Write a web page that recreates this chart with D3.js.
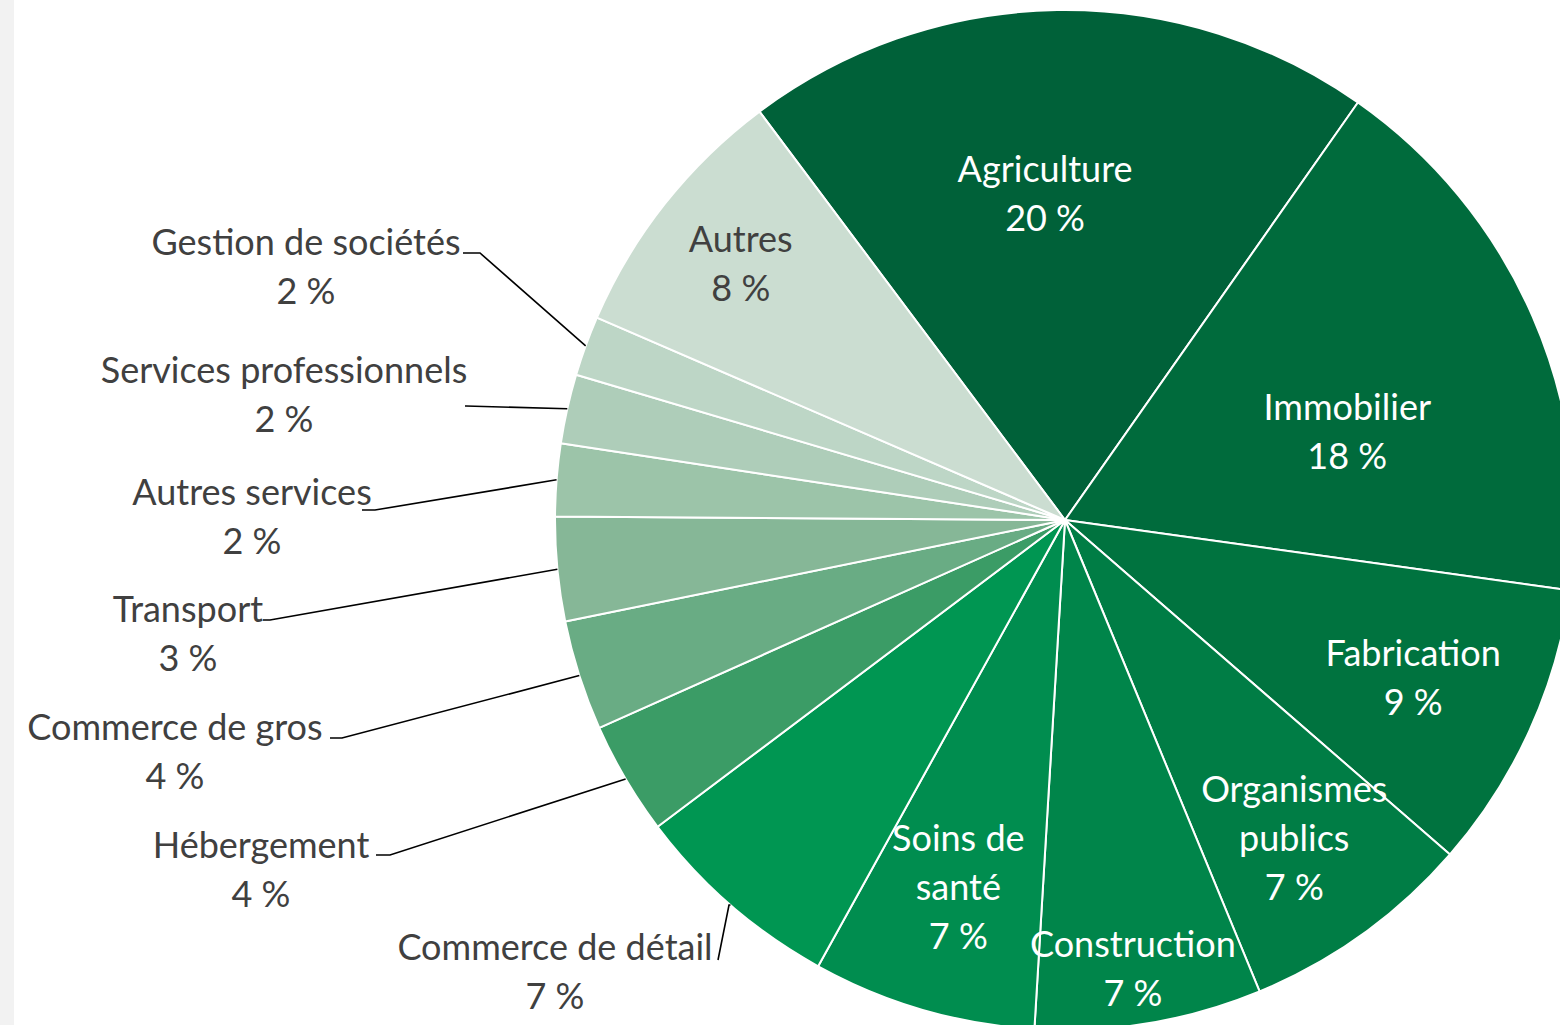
<!DOCTYPE html>
<html>
<head>
<meta charset="utf-8">
<script src="https://cdn.jsdelivr.net/npm/d3@7"></script>
<style>
  html, body { margin: 0; padding: 0; background: #fff; }
  svg { display: block; }
</style>
</head>
<body>
<svg id="chart" width="1560" height="1025"></svg>
<script>
// sectors, clockwise from the Agriculture slice
var sectors = ['Agriculture', 'Immobilier', 'Fabrication', 'Organismes publics', 'Construction',
  'Soins de santé', 'Commerce de détail', 'Hébergement', 'Commerce de gros', 'Transport',
  'Autres services', 'Services professionnels', 'Gestion de sociétés', 'Autres'];
// shares (%)
var shares = [20.0, 17.5, 9.2, 7.4, 7.2, 7.1, 6.7, 3.6, 3.5, 3.3, 2.3, 2.2, 1.9, 8.3];
// rounded labels as printed
var shareLabels = ['20 %', '18 %', '9 %', '7 %', '7 %', '7 %', '7 %', '4 %', '4 %', '3 %', '2 %', '2 %', '2 %', '8 %'];
var colours = ['#006139', '#006b3c', '#00733f', '#007d45', '#00854a', '#008d4f', '#009652',
  '#3b9c66', '#69ac84', '#86b797', '#9cc4a9', '#aecdb9', '#bdd6c6', '#cbddd1'];

// label layout (not data): inside labels sit at [angle in degrees or null = mid angle, radius fraction],
// outside labels have a fixed text box and a leader line to the rim
var labelLines = [['Agriculture'], ['Immobilier'], ['Fabrication'], ['Organismes', 'publics'], ['Construction'],
  ['Soins de', 'santé'], ['Commerce de détail'], ['Hébergement'], ['Commerce de gros'], ['Transport'],
  ['Autres services'], ['Services professionnels'], ['Gestion de sociétés'], ['Autres']];
var inside = {
  0: [-3.5, 0.64], 1: [72.6, 0.58], 2: [null, 0.75], 3: [null, 0.77],
  4: [171.4, 0.89], 5: [null, 0.75], 13: [null, 0.81]
};
var darkInside = {13: true};
var outside = {
  6:  {x: 555, y: 947, elbow: [[718, 960], [729, 905]]},
  7:  {x: 261, y: 845, elbow: [[376, 855], [390, 855]]},
  8:  {x: 175, y: 727, elbow: [[330, 738], [342, 738]]},
  9:  {x: 188, y: 609, elbow: [[263, 620], [270, 620]]},
  10: {x: 252, y: 492, elbow: [[362, 510], [375, 510]]},
  11: {x: 284, y: 370, elbow: [[465, 406], [466, 406]]},
  12: {x: 306, y: 242, elbow: [[463, 253], [480, 253]]}
};

var cx = 1065, cy = 520, R = 510;
var lineH = 49;
var startDeg = -36.8;

var svg = d3.select('#chart');
svg.append('rect').attr('x', 0).attr('y', 0).attr('width', 14).attr('height', 1025).attr('fill', '#f2f2f2');

var g = svg.append('g').attr('transform', 'translate(' + cx + ',' + cy + ')');

var pie = d3.pie().sort(null).value(function(d) { return d; })
  .startAngle(startDeg * Math.PI / 180)
  .endAngle((startDeg + 360) * Math.PI / 180);
var arcs = pie(shares);
var arc = d3.arc().innerRadius(0).outerRadius(R);

g.selectAll('path.slice').data(arcs).enter().append('path')
  .attr('class', 'slice')
  .attr('d', arc)
  .attr('fill', function(d, i) { return colours[i]; })
  .attr('stroke', '#ffffff')
  .attr('stroke-width', 2)
  .attr('stroke-linejoin', 'round');

function polar(a, r) { return [Math.sin(a) * r, -Math.cos(a) * r]; }

var font = 'Lato, "Open Sans", sans-serif';
var fontSize = 36;

arcs.forEach(function(d, i) {
  var mid = (d.startAngle + d.endAngle) / 2;
  var lines = labelLines[i].concat([shareLabels[i]]);
  var x, y, fill;
  if (inside[i] !== undefined) {
    var a = inside[i][0] === null ? mid : inside[i][0] * Math.PI / 180;
    var p = polar(a, R * inside[i][1]);
    x = cx + p[0];
    y = cy + p[1] - (lines.length - 1) * lineH / 2;
    fill = darkInside[i] ? '#404040' : '#ffffff';
  } else {
    var o = outside[i];
    x = o.x; y = o.y; fill = '#404040';
    var rim = polar(mid, R);
    var pts = o.elbow.concat([[cx + rim[0], cy + rim[1]]]);
    svg.append('path')
      .attr('d', d3.line()(pts))
      .attr('fill', 'none')
      .attr('stroke', '#000000')
      .attr('stroke-width', 1.6);
  }
  var t = svg.append('text')
    .attr('font-family', font)
    .attr('font-size', fontSize)
    .attr('fill', fill)
    .attr('text-anchor', 'middle');
  lines.forEach(function(s, k) {
    t.append('tspan').attr('x', x).attr('y', y + k * lineH).attr('dy', '0.35em').text(s);
  });
});
</script>
</body>
</html>
